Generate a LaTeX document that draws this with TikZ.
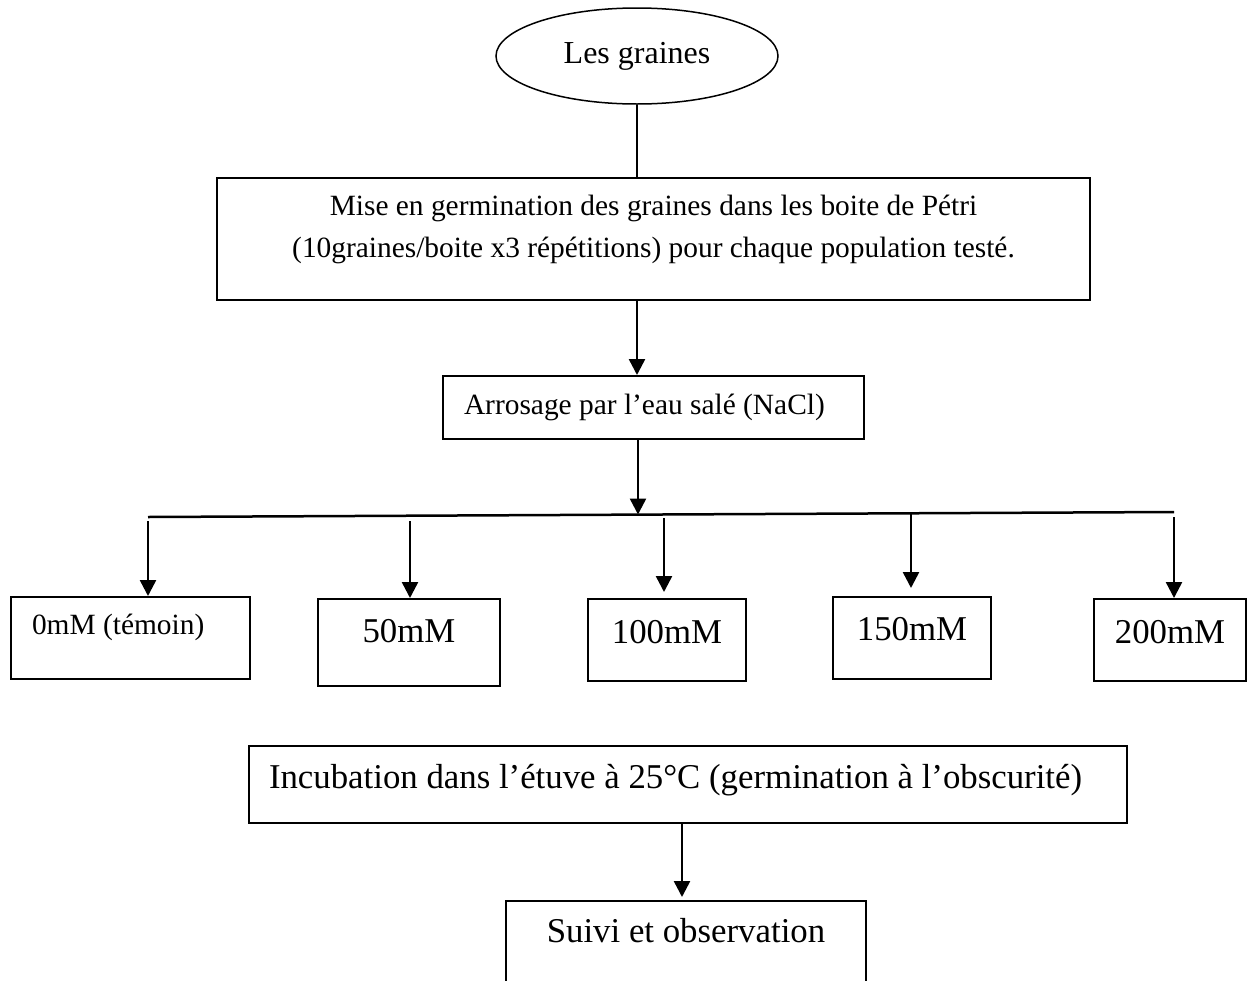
\documentclass[tikz,border=0pt]{standalone}
\usepackage{fontspec}
\setmainfont{Liberation Serif}
\usetikzlibrary{shapes.geometric,arrows.meta}

\begin{document}
\begin{tikzpicture}[
        x=1pt, y=-1pt,
        box/.style={draw, line width=2pt, inner sep=0pt, anchor=north west},
        small/.style={font=\fontsize{29.4}{42}\selectfont},
        big/.style={font=\fontsize{34.8}{41}\selectfont},
        lft/.style={align=flush left, inner xsep=21pt},
        arr/.style={line width=2.5pt, -{Triangle[length=16pt,width=16pt]}}
    ]
        \useasboundingbox (0,0) rectangle (1247,980);

        % Les étapes
        \node[draw, ellipse, line width=1.5pt, minimum width=282pt, minimum height=96pt,
              font=\fontsize{32}{38}\selectfont] (graines) at (637,56) {Les graines};
        \node[box, small, align=center, minimum width=873pt, text height=79pt, text depth=43pt]
              (germ) at (216,177) {Mise en germination des graines dans les boite de Pétri\\(10graines/boite x3 répétitions) pour chaque population testé.};
        \node[box, small, lft, text width=379pt, text height=38pt, text depth=25pt]
              (arros) at (442,375) {Arrosage par l’eau salé (NaCl)};

        % Les concentrations
        \node[box, small, lft, text width=197pt, text height=37pt, text depth=45pt] (c0) at (10,596) {0mM (témoin)};
        \node[box, big, minimum width=182pt, text height=43pt, text depth=44pt] (c50) at (317,598) {50mM};
        \node[box, big, minimum width=158pt, text height=44pt, text depth=38pt] (c100) at (587,598) {100mM};
        \node[box, big, minimum width=158pt, text height=43pt, text depth=39pt] (c150) at (832,596) {150mM};
        \node[box, big, minimum width=152pt, text height=44pt, text depth=38pt] (c200) at (1093,598) {200mM};

        \node[box, big, lft, inner xsep=20pt, text width=838pt, text height=42pt, text depth=35pt]
              (incub) at (248,745) {Incubation dans l’étuve à 25°C (germination à l’obscurité)};
        \node[box, big, minimum width=360pt, text height=41pt, text depth=59pt] (suivi) at (505,900) {Suivi et observation};

        % Les liaisons
        \draw[line width=1.5pt] (graines.south) -- (graines.south |- germ.north);
        \draw[arr] (germ.south -| graines) -- (arros.north -| graines);

        \coordinate (barL) at (148,517);
        \coordinate (barR) at (1174,512);
        \coordinate (barM) at (638,514.5);
        \draw[line width=2.5pt] (barL) -- (barR);
        \draw[arr] (arros.south -| barM) -- (barM);

        \foreach \n/\x/\y/\g in {c0/148/521/0, c50/410/521/0, c100/664/518/6, c150/911/514/8, c200/1174/517/0} {
            \coordinate (s\n) at (\x,\y);
            \draw[arr, shorten >=\g pt] (s\n) -- (s\n |- \n.north);
        }

        \draw[arr, shorten >=3pt] (incub.south -| 682,0) -- (suivi.north -| 682,0);
    \end{tikzpicture}
\end{document}
